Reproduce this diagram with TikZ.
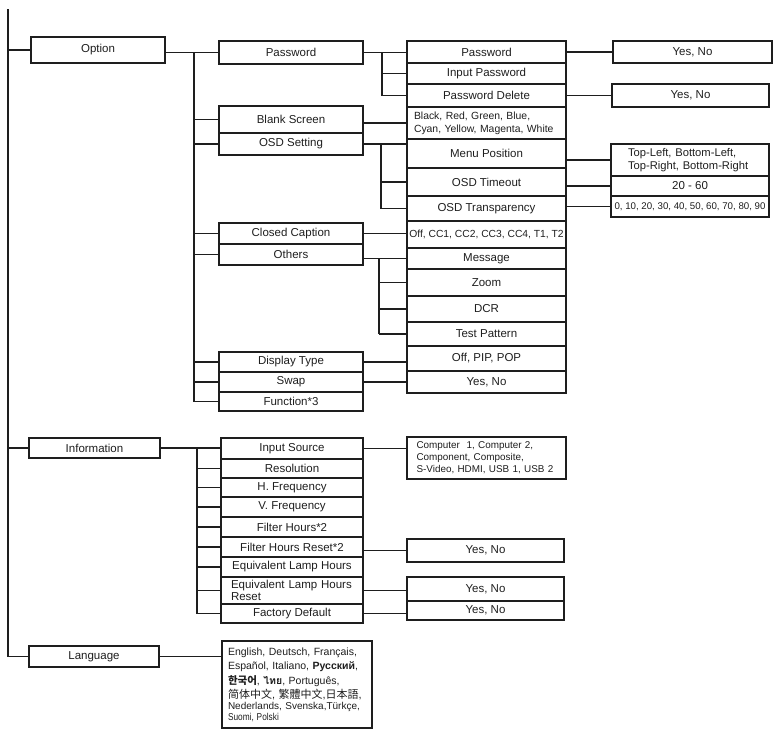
\documentclass[tikz,border=0pt]{standalone}
\usepackage{fontspec}
\usepackage{graphicx}
\setmainfont{Liberation Sans}
\newfontfamily\kofont{Noto Sans CJK KR}
\newfontfamily\scfont{Noto Sans CJK SC}
\newfontfamily\tcfont{Noto Sans CJK TC}
\newfontfamily\jpfont{Noto Sans CJK JP}
\newfontfamily\thaifont[Script=Thai]{Loma}
\definecolor{ink}{HTML}{1E1E1E}
\tikzset{
  box/.style={draw=ink, line width=1.5pt, inner sep=0pt, text=ink,
              font=\fontsize{11.5}{13}\selectfont, align=center},
  conn/.style={draw=ink, line width=1.4pt},
}
% #1 options, #2 name, #3 x1, #4 y1, #5 x2, #6 y2, #7 text
\newcommand\menubox[7][]{%
  \node[box, minimum width={#5pt-#3pt}, minimum height={#6pt-#4pt}, #1]
    (#2) at ({(#3+#5)/2},{(#4+#6)/2}) {#7};}
\begin{document}
\begin{tikzpicture}[x=1pt,y=-1pt]
\useasboundingbox (0,0) rectangle (779,731);

% ---------- level 1
\menubox{opt}{31}{37}{165}{63}{Option}
\menubox{info}{29}{438}{160}{458}{Information}
\menubox{lang}{29}{646}{159}{667}{Language}

% ---------- Option level 2
\menubox{pw2}{219}{41}{363}{64}{Password}
\menubox{blank}{219}{106}{363}{133}{Blank Screen}
\menubox{osd}{219}{133}{363}{155}{OSD Setting}
\menubox{cc}{219}{223}{363}{244}{Closed Caption}
\menubox{oth}{219}{244}{363}{265}{Others}
\menubox{disp}{219}{352}{363}{372}{Display Type}
\menubox{swap}{219}{372}{363}{392}{Swap}
\menubox{fn}{219}{392}{363}{411}{Function*3}

% ---------- Option level 3
\menubox{p3a}{407}{41}{566}{63}{Password}
\menubox{p3b}{407}{63}{566}{84}{Input Password}
\menubox{p3c}{407}{84}{566}{107}{Password Delete}
\menubox[align=left, text width=145pt, font=\fontsize{10.4}{13}\selectfont]{colors}{407}{107}{566}{139}{Black, Red, Green, Blue,\\Cyan, Yellow, Magenta, White}
\menubox{menu}{407}{139}{566}{168}{Menu Position}
\menubox{tout}{407}{168}{566}{196}{OSD Timeout}
\menubox{transp}{407}{196}{566}{221}{OSD Transparency}
\menubox[font=\fontsize{10.3}{12}\selectfont]{ccv}{407}{221}{566}{248}{Off, CC1, CC2, CC3, CC4, T1, T2}
\menubox{msg}{407}{248}{566}{269}{Message}
\menubox{zoom}{407}{269}{566}{296}{Zoom}
\menubox{dcr}{407}{296}{566}{322}{DCR}
\menubox{tp}{407}{322}{566}{346}{Test Pattern}
\menubox{pip}{407}{346}{566}{371}{Off, PIP, POP}
\menubox{swyn}{407}{371}{566}{393}{Yes, No}

% ---------- Option level 4
\menubox{yn1}{613}{41}{772}{63}{Yes, No}
\menubox{yn2}{612}{84}{769}{107}{Yes, No}
\menubox[align=left, text width=124pt, font=\fontsize{11.2}{13}\selectfont]{posv}{611}{144}{769}{176}{Top-Left, Bottom-Left,\\Top-Right, Bottom-Right}
\menubox{toutv}{611}{176}{769}{196}{20 - 60}
\menubox[font=\fontsize{9.7}{11}\selectfont]{transv}{611}{196}{769}{217}{0, 10, 20, 30, 40, 50, 60, 70, 80, 90}

% ---------- Information level 2
\menubox{isrc}{221}{438}{363}{459}{Input Source}
\menubox{res}{221}{459}{363}{478}{Resolution}
\menubox{hf}{221}{478}{363}{497}{H. Frequency}
\menubox{vf}{221}{497}{363}{517}{V. Frequency}
\menubox{fh}{221}{517}{363}{537}{Filter Hours*2}
\menubox{fhr}{221}{537}{363}{557}{Filter Hours Reset*2}
\menubox{elh}{221}{557}{363}{577}{Equivalent Lamp Hours}
\menubox[align=left, text width=122pt, font=\fontsize{11.5}{12.5}\selectfont]{elhr}{221}{577}{363}{604}{Equivalent Lamp Hours\\Reset}
\menubox{fd}{221}{604}{363}{623}{Factory Default}

% ---------- Information level 3
\menubox[align=left, text width=140pt, font=\fontsize{9.9}{12}\selectfont]{srcv}{407}{437}{566}{479}{Computer\ \ 1, Computer 2,\\Component, Composite,\\S-Video, HDMI, USB 1, USB 2}
\menubox{fhryn}{407}{539}{564}{562}{Yes, No}
\menubox{elhryn}{407}{577}{564}{601}{Yes, No}
\menubox{fdyn}{407}{601}{564}{620}{Yes, No}

% ---------- Language values
\menubox[align=left, text width=138pt, font=\fontsize{10.5}{14.5}\selectfont]{langv}{222}{641}{372}{728}{English, Deutsch, Fran\c{c}ais,\\
Espa\~nol, Italiano, \textbf{Русский},\\
{\kofont\bfseries 한국어}, {\thaifont\bfseries ไทย}, Português,\\
{\fontsize{11}{14.5}\selectfont{\scfont 简体中文}, {\tcfont 繁體中文},{\jpfont 日本語},}\\[-4pt]
{\fontsize{10}{12}\selectfont Nederlands, Svenska,Türkçe,}\\[-3.5pt]
{\fontsize{10}{12}\selectfont\scalebox{0.83}[1]{Suomi, Polski}}}

% ---------- connectors: main spine
\coordinate (mtop) at (8,9);
\draw[conn] (mtop) -- (mtop |- lang.west) -- (lang.west);
\draw[conn] (mtop |- opt.west) -- (opt.west);
\draw[conn] (mtop |- info.west) -- (info.west);

% Option bus
\coordinate (ob) at (194,0);
\draw[conn] (opt.east |- pw2.west) -- (pw2.west);
\draw[conn] (ob |- pw2.west) -- (ob |- fn.west);
\foreach \n in {blank,osd,cc,oth,disp,swap,fn}
  \draw[conn] (ob |- \n.west) -- (\n.west);

% Password bus
\coordinate (pb) at (382,0);
\draw[conn] (pw2.east) -- (pw2.east -| p3a.west);
\draw[conn] (pb |- p3a.west) -- (pb |- p3c.west);
\draw[conn] (pb |- p3b.west) -- (p3b.west);
\draw[conn] (pb |- p3c.west) -- (p3c.west);

% Blank screen, OSD
\draw[conn] (blank.east |- colors.west) -- (colors.west);
\coordinate (sb) at (381,0);
\draw[conn] (osd.east) -- (osd.east -| menu.west);
\draw[conn] (sb |- osd.east) -- (sb |- transp.west);
\draw[conn] (sb |- tout.west) -- (tout.west);
\draw[conn] (sb |- transp.west) -- (transp.west);

% Closed caption, Others
\draw[conn] (cc.east) -- (cc.east -| ccv.west);
\coordinate (tb) at (379,0);
\draw[conn] (oth.east |- msg.west) -- (msg.west);
\draw[conn] (tb |- msg.west) -- (tb |- tp.west);
\foreach \n in {zoom,dcr,tp}
  \draw[conn] (tb |- \n.west) -- (\n.west);

% Display type, swap
\draw[conn] (disp.east) -- (disp.east -| pip.west);
\draw[conn] (swap.east) -- (swap.east -| swyn.west);

% level 4
\draw[conn] (p3a.east) -- (p3a.east -| yn1.west);
\draw[conn] (p3c.east) -- (p3c.east -| yn2.west);
\draw[conn] (menu.east |- posv.west) -- (posv.west);
\draw[conn] (tout.east |- toutv.west) -- (toutv.west);
\draw[conn] (transp.east |- transv.west) -- (transv.west);

% Information bus
\coordinate (ib) at (197,0);
\draw[conn] (info.east) -- (info.east -| isrc.west);
\draw[conn] (ib |- info.east) -- (ib |- fd.west);
\foreach \n in {res,hf,vf,fh,fhr,elh,elhr,fd}
  \draw[conn] (ib |- \n.west) -- (\n.west);

\draw[conn] (isrc.east) -- (isrc.east -| srcv.west);
\draw[conn] (fhr.east |- fhryn.west) -- (fhryn.west);
\draw[conn] (elhr.east) -- (elhr.east -| elhryn.west);
\draw[conn] (fd.east) -- (fd.east -| fdyn.west);

% Language
\draw[conn] (lang.east) -- (lang.east -| langv.west);
\end{tikzpicture}
\end{document}
